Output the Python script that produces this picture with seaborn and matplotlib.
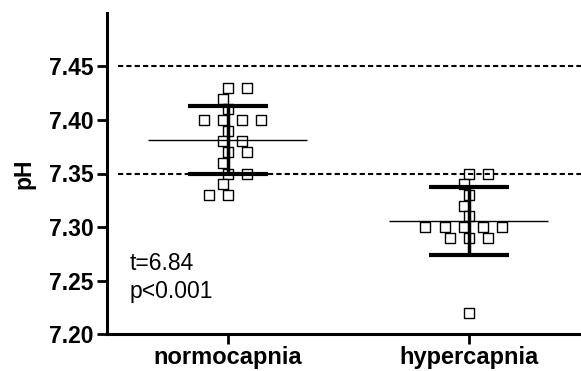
import numpy as np
import pandas as pd
import seaborn as sns
from matplotlib import pyplot as plt

# pH values
normocapnia = [7.43, 7.43, 7.42, 7.41, 7.40, 7.40, 7.40, 7.40, 7.39, 7.38,
               7.38, 7.37, 7.37, 7.36, 7.35, 7.35, 7.34, 7.33, 7.33]
hypercapnia = [7.35, 7.35, 7.34, 7.33, 7.32, 7.31, 7.30, 7.30, 7.30, 7.30,
               7.30, 7.29, 7.29, 7.29, 7.22]
groups = ["normocapnia", "hypercapnia"]
ref_lines = [7.45, 7.35]
y_ticks = [7.20, 7.25, 7.30, 7.35, 7.40, 7.45]
stats_text = "t=6.84\np<0.001"

df = pd.DataFrame({
    "group": [groups[0]] * len(normocapnia) + [groups[1]] * len(hypercapnia),
    "pH": normocapnia + hypercapnia,
})

sns.set_style("white")
plt.rcParams["font.family"] = ["Liberation Sans", "DejaVu Sans"]
plt.rcParams["text.color"] = "black"
plt.rcParams["axes.labelcolor"] = "black"

fig = plt.figure(figsize=(5.81, 3.71), dpi=100)
ax = fig.add_axes([107 / 581, 37 / 371, 474 / 581, 321 / 371])

sns.swarmplot(data=df, x="group", y="pH", order=groups, marker="s", size=7,
              color="white", edgecolor="black", linewidth=1, ax=ax, zorder=2)

ax.set_xlim(-0.502, 1.465)
ax.set_ylim(7.20, 7.50)

# let seaborn lay out the swarm once, then spread the columns out a bit
# (the reference uses a looser layout than a tight beeswarm)
fig.canvas.draw()
for i, coll in enumerate(ax.collections):
    pts = np.array(coll.get_offsets())
    if "draw" in coll.__dict__:
        del coll.draw
    pts[:, 0] = i + (pts[:, 0] - i) * 1.65
    coll.set_offsets(pts)

# mean line and SD bars
summary = df.groupby("group")["pH"].agg(["mean", "std"]).reindex(groups)
for i, (m, s) in enumerate(zip(summary["mean"], summary["std"])):
    ax.hlines(m, i - 0.33, i + 0.33, color="black", lw=1, zorder=3)
    ax.vlines(i, m - s, m + s, color="black", lw=2.5, zorder=3)
    ax.hlines([m - s, m + s], i - 0.166, i + 0.166, color="black", lw=3, zorder=3)

for r in ref_lines:
    ax.axhline(r, xmin=0.023, xmax=1, color="black", lw=1.5,
               linestyle=(0, (2.5, 1.5)), zorder=4)

ax.text(-0.407, 7.2526, stats_text, fontsize=16.5, va="center", ha="left",
        linespacing=1.3)

ax.set_yticks(y_ticks)
ax.set_yticklabels([f"{v:.2f}" for v in y_ticks], fontsize=16.5, fontweight="bold")
ax.set_xticks(range(len(groups)))
ax.set_xticklabels(groups, fontsize=17, fontweight="bold")
ax.set_xlabel("")
ax.set_ylabel("pH", fontsize=16.5, fontweight="bold", labelpad=10)

sns.despine(ax=ax)
for side in ["left", "bottom"]:
    ax.spines[side].set_linewidth(2.2)
    ax.spines[side].set_color("black")
ax.tick_params(axis="both", which="major", direction="out", length=7.5, width=2,
               color="black", labelcolor="black", pad=2, left=True, bottom=True)
ax.tick_params(axis="x", pad=1)

fig.savefig("out.png", dpi=100)
